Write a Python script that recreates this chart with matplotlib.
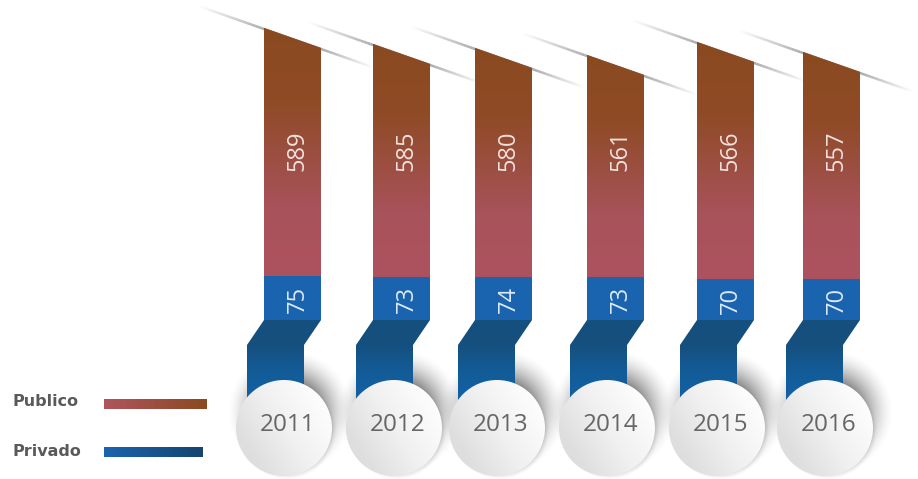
import numpy as np
import matplotlib
matplotlib.use("Agg")
import matplotlib.pyplot as plt
from matplotlib.colors import LinearSegmentedColormap
from matplotlib.patches import Polygon, Circle
from matplotlib.collections import LineCollection

# ---- data ----
years = ["2011", "2012", "2013", "2014", "2015", "2016"]
publico = [589, 585, 580, 561, 566, 557]
privado = [75, 73, 74, 73, 70, 70]
legend_labels = ["Publico", "Privado"]

# ---- layout (pixel space of the figure) ----
W, H = 918, 479
bar_left = [264, 373, 475, 587, 697, 803]
bar_w = 57
slant_top = [28, 44, 48, 55, 42, 52]
base_y = 320
px_priv = 0.585
px_pub = 0.43
slant = 20
fold = 25
off = 17
block_bottom = 400
circle_x = [284, 394, 497, 607, 717, 825]
circle_y = 428
circle_r = 48

plt.rcParams["font.family"] = ["Open Sans", "DejaVu Sans"]
fig = plt.figure(figsize=(W / 100, H / 100), dpi=100, facecolor="white")
ax = fig.add_axes([0, 0, 1, 1])
ax.set_xlim(0, W)
ax.set_ylim(H, 0)
ax.axis("off")

pub_cmap = LinearSegmentedColormap.from_list(
    "pub", [(0, "#8A4A20"), (0.30, "#8F4B26"), (0.72, "#A8525A"), (1, "#AD5360")])
block_cmap = LinearSegmentedColormap.from_list("blk", ["#15507F", "#135C98", "#1260A4"])
disc_cmap = LinearSegmentedColormap.from_list("disc", ["#DEDEDE", "#F0F0F0", "#FCFCFC"])


def grad(cmap, extent, clip, vertical=True, z=2):
    g = np.linspace(0, 1, 256)
    arr = g[:, None] if vertical else g[None, :]
    im = ax.imshow(arr, cmap=cmap, extent=extent, aspect="auto", zorder=z,
                   interpolation="bilinear", vmin=0, vmax=1)
    im.set_clip_path(clip)
    return im


def soft_disc(cx, cy, r, blur, peak, z):
    x0, x1 = cx - r - blur, cx + r + blur
    y0, y1 = cy - r - blur, cy + r + blur
    xx, yy = np.meshgrid(np.linspace(x0, x1, 200), np.linspace(y0, y1, 200))
    d = np.hypot(xx - cx, yy - cy)
    a = np.clip((r + blur - d) / (2 * blur), 0, 1) ** 1.6 * peak
    rgba = np.zeros(a.shape + (4,))
    rgba[..., :3] = 0.25
    rgba[..., 3] = a
    ax.imshow(rgba, extent=(x0, x1, y1, y0), aspect="auto", zorder=z, interpolation="bilinear")


# ---- streaks behind the bars ----
slope = slant / bar_w
for left, top in zip(bar_left, slant_top):
    xs = np.linspace(left - 64, left + bar_w + 52, 60)
    ys = top + (xs - left) * slope
    segs = [[(xs[i], ys[i] + 1.0), (xs[i + 1], ys[i + 1] + 1.0)] for i in range(len(xs) - 1)]
    mid = (xs[:-1] + xs[1:]) / 2
    alpha = np.interp(mid, [left - 64, left, left + bar_w, left + bar_w + 52], [0, 0.55, 0.55, 0.0])
    cols = np.zeros((len(mid), 4))
    cols[:, :3] = 0.4
    cols[:, 3] = alpha
    ax.add_collection(LineCollection(segs, colors=cols, linewidths=1.8, zorder=1))

# ---- stacked bars ----
for i, year in enumerate(years):
    left, top = bar_left[i], slant_top[i]
    right = left + bar_w
    priv_h = privado[i] * px_priv
    priv_top = base_y - priv_h

    # shadow of the lower fold
    soft_disc(circle_x[i] + 6, circle_y - 16, 47, 16, 0.62, 1.5)

    clip_top = Polygon([(left, top), (right, top + slant), (right, base_y), (left, base_y)],
                       transform=ax.transData)
    b1 = ax.bar(left + bar_w / 2, -publico[i] * px_pub, bar_w, bottom=priv_top,
                color="#9A4E40", linewidth=0, zorder=2)[0]
    b1.set_clip_path(clip_top)
    grad(pub_cmap, (left, right, priv_top, top), clip_top, z=2.1)

    ax.bar(left + bar_w / 2, -priv_h, bar_w, bottom=base_y, color="#1A63AE", linewidth=0, zorder=2.2)

    # fold and lower block
    ax.add_patch(Polygon([(left, base_y), (right, base_y), (right - off, base_y + fold),
                          (left - off, base_y + fold)], facecolor="#154F7E", edgecolor="none", zorder=2.2))
    blk = Polygon([(left - off, base_y + fold), (right - off, base_y + fold),
                   (right - off, block_bottom), (left - off, block_bottom)], transform=ax.transData)
    ax.add_patch(Polygon(blk.get_xy(), facecolor="#135C98", edgecolor="none", zorder=2.2))
    grad(block_cmap, (left - off, right - off, block_bottom, base_y + fold), blk, z=2.3)

    # numbers
    ax.text(left + bar_w / 2 + 5, 151, str(publico[i]), rotation=90, ha="center", va="center",
            color="#F0E2DE", fontsize=17, zorder=4)
    ax.text(left + bar_w / 2 + 5, (priv_top + base_y) / 2 + 1, str(privado[i]), rotation=90,
            ha="center", va="center", color="#DCE9F5", fontsize=17, zorder=4)

    # year disc
    cx = circle_x[i]
    soft_disc(cx + 3, circle_y + 2, circle_r - 1, 3, 0.2, 3)
    disc = Circle((cx, circle_y), circle_r, transform=ax.transData)
    xx, yy = np.meshgrid(np.linspace(-1, 1, 200), np.linspace(-1, 1, 200))
    shade = np.clip(0.5 + 0.6 * (0.8 * xx - 0.5 * yy), 0, 1)
    im = ax.imshow(shade, cmap=disc_cmap, vmin=0, vmax=1, aspect="auto", zorder=3.2,
                   extent=(cx - circle_r, cx + circle_r, circle_y + circle_r, circle_y - circle_r),
                   interpolation="bilinear")
    im.set_clip_path(disc)
    ax.text(cx + 4, 425, year, ha="center", va="center", color="#666666", fontsize=17.5, zorder=4)

# ---- legend ----
leg_pub = LinearSegmentedColormap.from_list("lp", ["#B0545E", "#8A4A20"])
leg_priv = LinearSegmentedColormap.from_list("lq", ["#1A64B0", "#15456F"])
for label, cmap, x1, ly, ty in zip(legend_labels, [leg_pub, leg_priv], [207, 203], [404, 452], [401, 451]):
    rect = Polygon([(104, ly - 5), (x1, ly - 5), (x1, ly + 5), (104, ly + 5)], transform=ax.transData)
    grad(cmap, (104, x1, ly + 5, ly - 5), rect, vertical=False, z=2)
    ax.text(13 if label == "Publico" else 12, ty, label, ha="left", va="center", color="#5A5A5A",
            fontsize=11.5, fontweight="bold", family="DejaVu Sans")

ax.set_xlim(0, W)
ax.set_ylim(H, 0)
fig.savefig("out.png", dpi=100, facecolor="white")
